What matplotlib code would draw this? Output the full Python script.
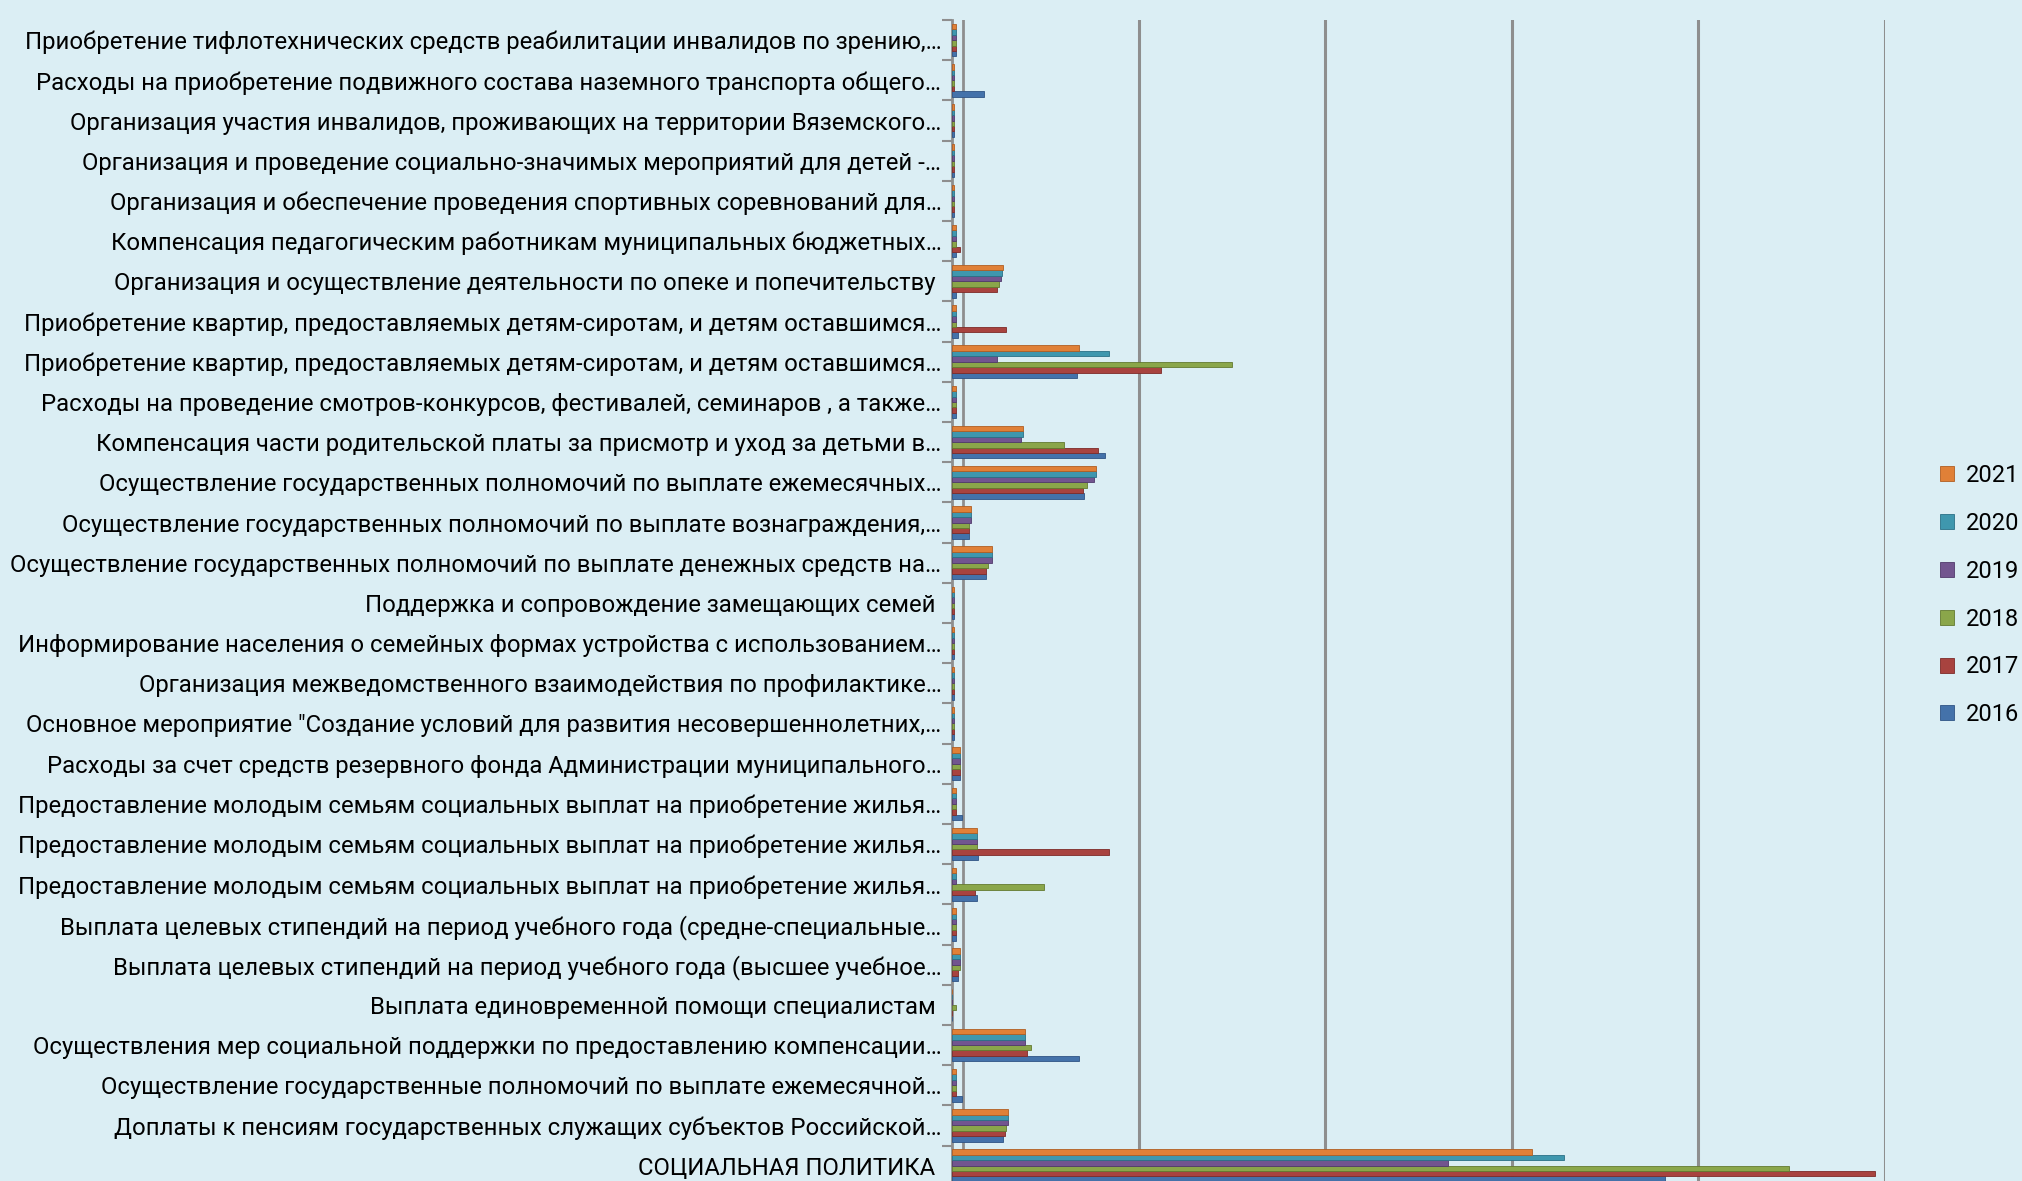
import matplotlib.pyplot as plt
import numpy as np

# Категории сверху вниз, как на исходной диаграмме
categories = [
    "Приобретение тифлотехнических средств реабилитации инвалидов по зрению,…",
    "Расходы на приобретение подвижного состава наземного транспорта общего…",
    "Организация участия инвалидов, проживающих на территории Вяземского…",
    "Организация и проведение социально-значимых мероприятий для детей -…",
    "Организация и обеспечение проведения спортивных соревнований для…",
    "Компенсация педагогическим работникам муниципальных бюджетных…",
    "Организация и осуществление деятельности по опеке и попечительству ",
    "Приобретение квартир, предоставляемых детям-сиротам, и детям оставшимся…",
    "Приобретение квартир, предоставляемых детям-сиротам, и детям оставшимся…",
    "Расходы на проведение смотров-конкурсов, фестивалей, семинаров , а также…",
    "Компенсация части родительской платы за присмотр и уход за детьми в…",
    "Осуществление государственных полномочий по выплате ежемесячных…",
    "Осуществление государственных полномочий по выплате вознаграждения,…",
    "Осуществление государственных полномочий по выплате денежных средств на…",
    "Поддержка и сопровождение замещающих семей ",
    "Информирование населения о семейных формах устройства с использованием…",
    "Организация межведомственного взаимодействия по профилактике…",
    "Основное мероприятие \"Создание условий для развития несовершеннолетних,…",
    "Расходы за счет средств резервного фонда Администрации муниципального…",
    "Предоставление молодым семьям социальных выплат на приобретение жилья…",
    "Предоставление молодым семьям социальных выплат на приобретение жилья…",
    "Предоставление молодым семьям социальных выплат на приобретение жилья…",
    "Выплата целевых стипендий на период учебного года (средне-специальные…",
    "Выплата целевых стипендий на период учебного года (высшее учебное…",
    "Выплата единовременной помощи специалистам ",
    "Осуществления мер социальной поддержки по предоставлению компенсации…",
    "Осуществление государственные полномочий по выплате ежемесячной…",
    "Доплаты к пенсиям государственных служащих субъектов Российской…",
    "СОЦИАЛЬНАЯ ПОЛИТИКА ",
]

years = ["2016", "2017", "2018", "2019", "2020", "2021"]

# значения в условных единицах (1 = шаг сетки)
v2016 = [0.02, 0.17, 0.01, 0.01, 0.01, 0.02, 0.02, 0.03, 0.67, 0.02,
         0.82, 0.705, 0.09, 0.18, 0.01, 0.01, 0.01, 0.01, 0.04, 0.05,
         0.14, 0.13, 0.02, 0.03, 0.0, 0.68, 0.05, 0.27, 3.82]
v2017 = [0.02, 0.01, 0.01, 0.01, 0.01, 0.04, 0.24, 0.29, 1.12, 0.02,
         0.78, 0.70, 0.09, 0.18, 0.01, 0.01, 0.01, 0.01, 0.04, 0.02,
         0.84, 0.12, 0.02, 0.03, 0.0, 0.40, 0.02, 0.28, 4.95]
v2018 = [0.02, 0.01, 0.01, 0.01, 0.01, 0.02, 0.25, 0.02, 1.50, 0.02,
         0.60, 0.72, 0.09, 0.19, 0.01, 0.01, 0.01, 0.01, 0.04, 0.02,
         0.13, 0.49, 0.02, 0.04, 0.02, 0.42, 0.02, 0.29, 4.49]
v2019 = [0.02, 0.01, 0.01, 0.01, 0.01, 0.02, 0.26, 0.02, 0.24, 0.02,
         0.37, 0.76, 0.10, 0.21, 0.01, 0.01, 0.01, 0.01, 0.04, 0.02,
         0.13, 0.02, 0.02, 0.04, 0.0, 0.39, 0.02, 0.30, 2.66]
v2020 = [0.02, 0.01, 0.01, 0.01, 0.01, 0.02, 0.265, 0.02, 0.84, 0.02,
         0.38, 0.77, 0.10, 0.21, 0.01, 0.01, 0.01, 0.01, 0.04, 0.02,
         0.13, 0.02, 0.02, 0.04, 0.0, 0.39, 0.02, 0.30, 3.28]
v2021 = [0.02, 0.01, 0.01, 0.01, 0.01, 0.02, 0.27, 0.02, 0.68, 0.02,
         0.38, 0.77, 0.10, 0.21, 0.01, 0.01, 0.01, 0.01, 0.04, 0.02,
         0.13, 0.02, 0.02, 0.04, 0.0, 0.39, 0.02, 0.30, 3.11]

series = [v2016, v2017, v2018, v2019, v2020, v2021]
colors = ["#4472AA", "#A8433F", "#8AA64A", "#72558F", "#3F97AE", "#E08037"]
edges = ["#2f5485", "#7e2b28", "#63792f", "#513a6b", "#2a7087", "#b05e22"]

bg = "#DBEEF4"
plt.rcParams['font.family'] = ['Roboto', 'DejaVu Sans']

fig = plt.figure(figsize=(20.22, 11.81), dpi=100, facecolor=bg)
ax = fig.add_axes([0.471, -0.004, 0.461, 0.987], facecolor=bg)

y = np.arange(len(categories))
h = 0.135
for i, (vals, c, ec) in enumerate(zip(series, colors, edges)):
    ax.barh(y + (2.5 - i) * h, vals, height=h, color=c, edgecolor=ec,
            linewidth=0.6, label=years[i], zorder=3)

ax.set_ylim(len(categories) - 0.5, -0.5)
ax.set_xlim(0, 5)

# сетка
for gx in [1, 2, 3, 4, 5]:
    ax.axvline(gx, color="#8e8e8e", linewidth=2.2, zorder=1)
ax.axvline(0.055, color="#8e8e8e", linewidth=2.0, zorder=1)

for s in ["top", "right", "bottom"]:
    ax.spines[s].set_visible(False)
ax.spines["left"].set_color("#8e8e8e")
ax.spines["left"].set_linewidth(2.0)

ax.set_xticks([])
ax.set_yticks(y)
ax.set_yticklabels(categories, fontsize=17.2)
ax.tick_params(axis="y", which="major", length=0, pad=8)
ax.set_yticks(np.arange(len(categories) + 1) - 0.5, minor=True)
ax.tick_params(axis="y", which="minor", length=7, width=1.5, color="#8e8e8e")

handles, labels = ax.get_legend_handles_labels()
leg = fig.legend(handles[::-1], labels[::-1], loc="center left",
                 bbox_to_anchor=(0.957, 0.496), frameon=False, fontsize=17,
                 handlelength=0.6, handleheight=0.6, labelspacing=1.05,
                 handletextpad=0.5, borderaxespad=0.0, borderpad=0.2)

plt.savefig("out.png", dpi=100, facecolor=bg)
